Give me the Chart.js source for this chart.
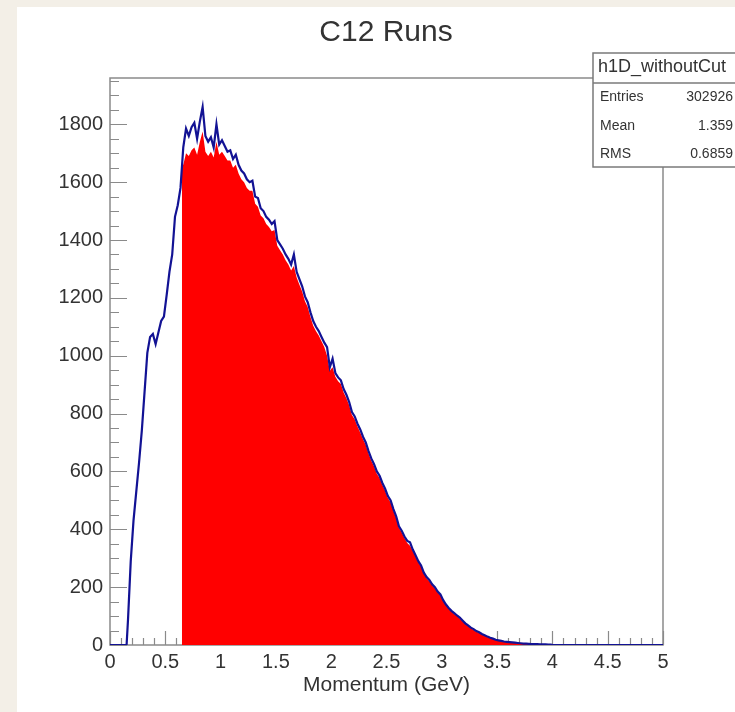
<!DOCTYPE html>
<html>
<head>
<meta charset="utf-8">
<script src="https://cdn.jsdelivr.net/npm/chart.js@4.4.1/dist/chart.umd.min.js"></script>
<style>
  html, body { margin: 0; padding: 0; }
  body {
    width: 735px; height: 712px; overflow: hidden; position: relative;
    background: #f3efe7;
  }
  #sheet { position: absolute; left: 17px; top: 7px; right: 0; bottom: 0; background: #fff; }
  #c { position: absolute; left: 0; top: 0; }
</style>
</head>
<body>
<div id="sheet"></div>
<canvas id="c" width="735" height="712"></canvas>
<script>
// histogram binning (GeV)
const binWidth = 0.025;
const xMin = 0, xMax = 5;
const yMax = 1960;

// h1D_withoutCut, bins starting at 0.15 GeV
const allStart = 0.15;
const allCounts = [
  85, 290, 430, 530, 630, 740, 875, 1010, 1065, 1075,
  1040, 1080, 1120, 1135, 1210, 1290, 1350, 1480, 1520, 1580,
  1720, 1785, 1760, 1790, 1805, 1750, 1810, 1860, 1760, 1740,
  1755, 1720, 1800, 1730, 1745, 1725, 1705, 1710, 1680, 1695,
  1660, 1640, 1630, 1610, 1600, 1605, 1550, 1545, 1510, 1500,
  1480, 1470, 1455, 1465, 1400, 1385, 1370, 1350, 1335, 1315,
  1350, 1290, 1265, 1240, 1205, 1185, 1150, 1120, 1100, 1085,
  1065, 1045, 1030, 960, 990, 940, 925, 915, 885, 865,
  840, 805, 790, 765, 745, 720, 700, 670, 645, 625,
  600, 585, 560, 540, 515, 500, 470, 445, 410, 395,
  375, 360, 355, 330, 310, 290, 275, 250, 235, 225,
  210, 200, 185, 175, 155, 140, 128, 118, 110, 102,
  95, 85, 75, 68, 60, 55, 48, 44, 38, 34,
  29, 25, 22, 18, 16, 14, 12, 11, 10, 9,
  8, 7, 6, 5, 5, 4, 3, 3, 3, 2,
  2, 2, 1, 1
];

// momentum-cut histogram, bins starting at 0.65 GeV
const cutStart = 0.65;
const cutCounts = [
  1660, 1700, 1690, 1710, 1720, 1695, 1740, 1775, 1705, 1690,
  1705, 1685, 1740, 1695, 1705, 1690, 1675, 1675, 1650, 1660,
  1630, 1610, 1600, 1580, 1570, 1570, 1525, 1515, 1485, 1475,
  1455, 1445, 1430, 1435, 1380, 1365, 1350, 1330, 1315, 1295,
  1310, 1270, 1245, 1222, 1188, 1168, 1134, 1104, 1085, 1070,
  1050, 1030, 1000, 948, 960, 927, 912, 902, 873, 853,
  829, 795, 780, 755, 735, 711, 691, 662, 637, 617,
  592, 577, 553, 533, 508, 493, 464, 439, 405, 389,
  370, 353, 343, 325, 305, 286, 271, 247, 231, 220,
  206, 196, 182, 171, 152, 137, 125, 115, 107, 100,
  92, 82, 73, 66, 58, 53, 46, 42, 37, 33,
  28, 24, 21, 17, 15, 13, 11, 10, 9, 8,
  7, 6, 5, 4, 4, 3, 3, 2, 2, 2,
  1, 1, 1, 1
];

const xTickLabels = ['0', '0.5', '1', '1.5', '2', '2.5', '3', '3.5', '4', '4.5', '5'];
const yTickValues = [0, 200, 400, 600, 800, 1000, 1200, 1400, 1600, 1800];
const statsTitle = 'h1D_withoutCut';
const statsRows = [['Entries', '302926'], ['Mean', '1.359'], ['RMS', '0.6859']];

const FONT = '"Liberation Sans", Arial, Helvetica, sans-serif';
const TEXT = '#333';

// bin contents -> points at bin centres, closed by the bin edges
function histPoints(start, counts, padToRange) {
  const end = +(start + counts.length * binWidth).toFixed(4);
  const pts = [];
  if (padToRange) pts.push({ x: xMin, y: 0 });
  pts.push({ x: start, y: 0 });
  if (!padToRange) pts.push({ x: start, y: counts[0] });
  counts.forEach((c, i) => pts.push({ x: +(start + (i + 0.5) * binWidth).toFixed(4), y: c }));
  pts.push({ x: end, y: 0 });
  if (padToRange) pts.push({ x: xMax, y: 0 });
  return pts;
}

const rootFrame = {
  id: 'rootFrame',
  beforeDatasetsDraw(chart) {
    const { ctx, chartArea: a, scales: { x, y } } = chart;
    ctx.save();
    ctx.strokeStyle = '#8a8a8a';
    ctx.lineWidth = 1.5;
    ctx.strokeRect(a.left, a.top, a.right - a.left, a.bottom - a.top);
    ctx.lineWidth = 1.2;
    ctx.beginPath();
    for (let i = 0; i <= 50; i++) {
      const px = Math.round(x.getPixelForValue(i * 0.1)) + 0.5;
      const len = i % 5 === 0 ? 14 : 7;
      ctx.moveTo(px, a.bottom);
      ctx.lineTo(px, a.bottom - len);
    }
    for (let v = 0; v < yMax; v += 50) {
      const py = Math.round(y.getPixelForValue(v)) + 0.5;
      const len = v % 200 === 0 ? 17 : 9;
      ctx.moveTo(a.left, py);
      ctx.lineTo(a.left + len, py);
    }
    ctx.stroke();
    ctx.restore();
  },
  afterDraw(chart) {
    const { ctx } = chart;
    ctx.save();
    ctx.fillStyle = TEXT;
    ctx.font = '30px ' + FONT;
    ctx.textAlign = 'center';
    ctx.textBaseline = 'middle';
    ctx.fillText('C12 Runs', 386, 33);

    // stats box
    ctx.fillStyle = '#fff';
    ctx.fillRect(593, 53, 150, 114);
    ctx.strokeStyle = '#7a7a7a';
    ctx.lineWidth = 1.5;
    ctx.strokeRect(593, 53, 150, 114);
    ctx.beginPath();
    ctx.moveTo(593, 83);
    ctx.lineTo(743, 83);
    ctx.stroke();
    ctx.fillStyle = TEXT;
    ctx.textAlign = 'left';
    ctx.font = '18px ' + FONT;
    ctx.fillText(statsTitle, 598, 67);
    ctx.font = '14px ' + FONT;
    const rowY = [97, 126, 154];
    statsRows.forEach(([k, v], i) => {
      ctx.textAlign = 'left';
      ctx.fillText(k, 600, rowY[i]);
      ctx.textAlign = 'right';
      ctx.fillText(v, 733, rowY[i]);
    });
    ctx.restore();
  }
};

new Chart(document.getElementById('c'), {
  type: 'line',
  data: {
    datasets: [
      {
        label: 'h1D_withoutCut',
        data: histPoints(allStart, allCounts, true),
        borderColor: '#121294',
        borderWidth: 2.2,
        pointRadius: 0,
        tension: 0,
        fill: false
      },
      {
        label: 'cut',
        data: histPoints(cutStart, cutCounts, false),
        borderWidth: 0,
        borderColor: 'rgba(0,0,0,0)',
        backgroundColor: '#ff0000',
        pointRadius: 0,
        tension: 0,
        fill: 'origin'
      }
    ]
  },
  options: {
    responsive: false,
    animation: false,
    devicePixelRatio: 1,
    layout: { padding: { left: 0, top: 78, right: 72, bottom: 0 } },
    plugins: {
      legend: { display: false },
      tooltip: { enabled: false },
      title: { display: false }
    },
    scales: {
      x: {
        type: 'linear',
        min: xMin,
        max: xMax,
        grid: { display: false, drawTicks: false },
        border: { display: false },
        ticks: {
          stepSize: 0.5,
          padding: 5,
          maxRotation: 0,
          autoSkip: false,
          color: TEXT,
          font: { family: FONT, size: 20 },
          callback: (v) => xTickLabels[Math.round(v * 2)] ?? ''
        },
        title: {
          display: true,
          text: 'Momentum (GeV)',
          color: TEXT,
          font: { family: FONT, size: 21 },
          padding: { top: 0, bottom: 14 }
        },
        afterFit: (s) => { s.height = 712 - 645; }
      },
      y: {
        min: 0,
        max: yMax,
        grid: { display: false, drawTicks: false },
        border: { display: false },
        afterBuildTicks: (s) => { s.ticks = yTickValues.map((v) => ({ value: v })); },
        ticks: {
          autoSkip: false,
          padding: 7,
          color: TEXT,
          font: { family: FONT, size: 20 },
          callback: (v) => String(v)
        },
        afterFit: (s) => { s.width = 110; }
      }
    }
  },
  plugins: [rootFrame]
});
</script>
</body>
</html>
